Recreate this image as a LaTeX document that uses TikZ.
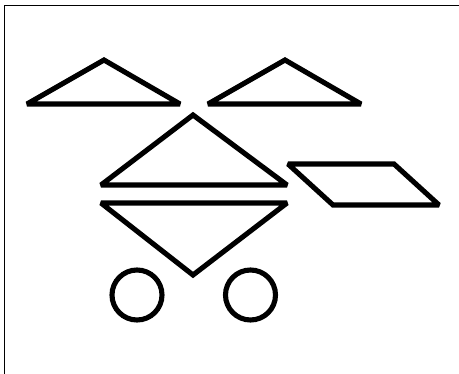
\documentclass[tikz,border=0pt]{standalone}
\usepackage{tikz}

\begin{document}
\begin{tikzpicture}[
  x=0.02cm, y=-0.02cm,
  piece/.style={draw, line width=2.9pt, line join=miter, miter limit=2},
  frame/.style={draw, line width=1pt}
]
\useasboundingbox (0,0) rectangle (459,374);

% --- Frame (only top and left edges are visible) ---
\draw[frame] (4.5,374) -- (4.5,5.5) -- (459,5.5);

% --- Top row: two flat triangles ---
\draw[piece] (27,104) -- (104,60) -- (180,104) -- cycle;
\draw[piece] (208,104) -- (285,60) -- (361,104) -- cycle;

% --- Middle: triangle up, triangle down ---
\draw[piece] (101,185) -- (193,115) -- (287,185) -- cycle;
\draw[piece] (101,203) -- (287,203) -- (193,275) -- cycle;

% --- Parallelogram ---
\draw[piece] (288,164) -- (394,164) -- (439,205) -- (333,205) -- cycle;

% --- Wheels ---
\draw[piece] (137,295) circle (25);
\draw[piece] (250.5,295) circle (25);

\end{tikzpicture}
\end{document}
